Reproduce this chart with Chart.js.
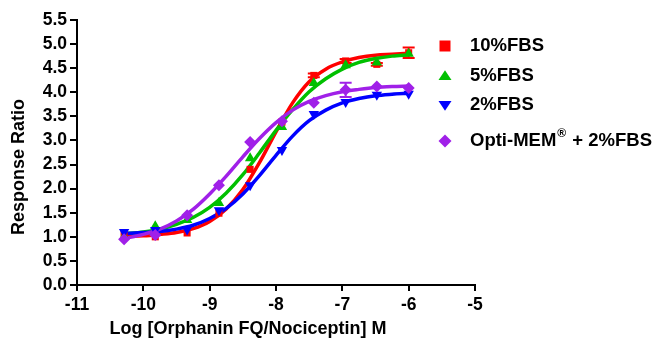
<!DOCTYPE html>
<html>
<head>
<meta charset="utf-8">
<script src="https://cdn.jsdelivr.net/npm/chart.js@4.4.1/dist/chart.umd.min.js"></script>
<style>
html,body{margin:0;padding:0;background:#fff;}
#wrap{width:662px;height:347px;position:relative;}
</style>
</head>
<body>
<div id="wrap"><canvas id="c" width="662" height="347"></canvas></div>
<script>
// ---- data ----
const seriesLabels = ["10%FBS", "5%FBS", "2%FBS", "Opti-MEM"];
const legendSuffix = " + 2%FBS";
const xTitle = "Log [Orphanin FQ/Nociceptin] M";
const yTitle = "Response Ratio";
const logConc = [-10.29, -9.82, -9.34, -8.86, -8.39, -7.91, -7.43, -6.95, -6.48, -6.0];
const fbs10 = [1.05, 1.00, 1.08, 1.49, 2.40, 3.38, 4.35, 4.65, 4.58, 4.82];
const fbs5  = [1.00, 1.22, 1.35, 1.70, 2.63, 3.28, 4.19, 4.56, 4.62, 4.80];
const fbs2  = [1.10, 1.14, 1.15, 1.55, 2.07, 2.80, 3.55, 3.80, 3.95, 3.97];
const opti  = [0.95, 1.04, 1.45, 2.07, 2.97, 3.40, 3.78, 4.05, 4.12, 4.09];
const errFbs10 = [0, 0, 0, 0, 0, 0, 0.04, 0.04, 0.03, 0.11];
const errOpti  = [0, 0, 0, 0, 0, 0, 0, 0.15, 0, 0];

// fitted curves
const curveX = [-10.3, -10, -9.75, -9.5, -9.25, -9, -8.75, -8.5, -8.25, -8, -7.75, -7.5, -7.25, -7, -6.75, -6.5, -6.25, -6];
const curve10 = [1.01, 1.02, 1.05, 1.09, 1.17, 1.32, 1.58, 1.98, 2.54, 3.18, 3.78, 4.22, 4.48, 4.63, 4.72, 4.77, 4.79, 4.81];
const curve5  = [1.06, 1.10, 1.16, 1.26, 1.40, 1.61, 1.91, 2.29, 2.74, 3.21, 3.64, 4.01, 4.28, 4.48, 4.62, 4.70, 4.75, 4.78];
const curve2  = [1.07, 1.09, 1.11, 1.16, 1.24, 1.38, 1.59, 1.89, 2.27, 2.69, 3.09, 3.41, 3.63, 3.78, 3.87, 3.93, 3.96, 3.98];
const curveO  = [0.96, 1.05, 1.16, 1.33, 1.57, 1.89, 2.26, 2.66, 3.04, 3.37, 3.63, 3.81, 3.93, 4.01, 4.06, 4.10, 4.12, 4.13];

const xTicks = [-11, -10, -9, -8, -7, -6, -5];
const yMin = 0, yMax = 5.5, yStep = 0.5;

const colors = ["#ff0000", "#00c000", "#0000ff", "#a020e8"];
const styles = [
  {pointStyle: "rect", rotation: 0, radius: 5.5},
  {pointStyle: "triangle", rotation: 0, radius: 6.5},
  {pointStyle: "triangle", rotation: 180, radius: 6.5},
  {pointStyle: "rectRot", rotation: 0, radius: 6.5}
];

const pts = (xs, ys) => xs.map((v, i) => ({x: v, y: ys[i]}));
const values = [fbs10, fbs5, fbs2, opti];
const curves = [curve10, curve5, curve2, curveO];
const errs = [errFbs10, null, null, errOpti];

const datasets = [];
curves.forEach((c, i) => {
  datasets.push({
    type: "line", label: seriesLabels[i] + " fit", data: pts(curveX, c),
    borderColor: colors[i], borderWidth: 3.5, pointRadius: 0, fill: false,
    cubicInterpolationMode: "monotone", order: 10 - i
  });
});
values.forEach((v, i) => {
  datasets.push({
    type: "scatter", label: seriesLabels[i], data: pts(logConc, v),
    backgroundColor: colors[i], borderColor: colors[i], borderWidth: 0,
    pointStyle: styles[i].pointStyle, rotation: styles[i].rotation,
    pointRadius: styles[i].radius - 0.5, showLine: false, order: 5 - i
  });
});

function drawMarker(ctx, style, color, cx, cy) {
  ctx.save();
  ctx.fillStyle = color;
  ctx.beginPath();
  const r = style.radius;
  if (style.pointStyle === "rect") {
    ctx.rect(cx - r, cy - r, 2 * r, 2 * r);
  } else if (style.pointStyle === "rectRot") {
    ctx.moveTo(cx, cy - r); ctx.lineTo(cx + r, cy); ctx.lineTo(cx, cy + r); ctx.lineTo(cx - r, cy); ctx.closePath();
  } else if (style.rotation === 180) {
    ctx.moveTo(cx - r, cy - r * 0.6); ctx.lineTo(cx + r, cy - r * 0.6); ctx.lineTo(cx, cy + r * 0.9); ctx.closePath();
  } else {
    ctx.moveTo(cx - r, cy + r * 0.6); ctx.lineTo(cx + r, cy + r * 0.6); ctx.lineTo(cx, cy - r * 0.9); ctx.closePath();
  }
  ctx.fill();
  ctx.restore();
}

const FAM = "'Liberation Sans', Arial, sans-serif";

const extras = {
  id: "extras",
  beforeDatasetsDraw(chart) {
    const {ctx, scales: {x, y}} = chart;
    ctx.save();
    ctx.lineWidth = 2;
    errs.forEach((e, i) => {
      if (!e) return;
      ctx.strokeStyle = colors[i];
      e.forEach((d, k) => {
        if (!d) return;
        const px = x.getPixelForValue(logConc[k]);
        const top = y.getPixelForValue(values[i][k] + d);
        const bot = y.getPixelForValue(values[i][k] - d);
        ctx.beginPath();
        ctx.moveTo(px, top); ctx.lineTo(px, bot);
        ctx.moveTo(px - 6, top); ctx.lineTo(px + 6, top);
        ctx.moveTo(px - 6, bot); ctx.lineTo(px + 6, bot);
        ctx.stroke();
      });
    });
    ctx.restore();
  },
  afterDraw(chart) {
    const ctx = chart.ctx;
    const rows = [46, 76, 105, 141];
    ctx.save();
    ctx.textBaseline = "middle";
    ctx.fillStyle = "#000";
    const big = "bold 18.5px " + FAM;
    rows.forEach((ry, i) => {
      drawMarker(ctx, styles[i], colors[i], 445, ry);
      ctx.font = big;
      ctx.textAlign = "left";
      if (i < 3) {
        ctx.fillText(seriesLabels[i], 470, ry);
      } else {
        const base = seriesLabels[i];
        ctx.fillText(base, 470, ry);
        const w = ctx.measureText(base).width;
        ctx.font = "bold 12px " + FAM;
        ctx.fillText("\u00AE", 470 + w + 1, ry - 7);
        const w2 = ctx.measureText("\u00AE").width;
        ctx.font = big;
        ctx.fillText(legendSuffix, 470 + w + w2 + 2, ry);
      }
    });
    // axis titles
    ctx.font = "bold 18px " + FAM;
    ctx.textAlign = "center";
    ctx.fillText(xTitle, 248, 329);
    ctx.translate(19, 167);
    ctx.rotate(-Math.PI / 2);
    ctx.fillText(yTitle, 0, 0);
    ctx.restore();
  }
};

const tickFont = {family: FAM, size: 17.5, weight: "bold"};

new Chart(document.getElementById("c"), {
  type: "scatter",
  data: {datasets},
  options: {
    responsive: false,
    animation: false,
    devicePixelRatio: 1,
    layout: {padding: {top: 20, right: 187, left: 0, bottom: 0}},
    plugins: {legend: {display: false}, tooltip: {enabled: false}},
    scales: {
      x: {
        type: "linear", min: -11, max: -5,
        afterBuildTicks: s => { s.ticks = xTicks.map(v => ({value: v})); },
        afterFit: s => { s.height = 62; },
        ticks: {color: "#000", font: tickFont, padding: 4, maxRotation: 0, callback: v => String(v)},
        grid: {display: true, drawOnChartArea: false, drawTicks: true, tickLength: 6, color: "#000", lineWidth: 2},
        border: {display: true, color: "#000", width: 2},
        title: {display: false}
      },
      y: {
        type: "linear", min: yMin, max: yMax,
        ticks: {stepSize: yStep, color: "#000", font: tickFont, padding: 3, callback: v => Number(v).toFixed(1)},
        afterFit: s => { s.width = 77; },
        grid: {display: true, drawOnChartArea: false, drawTicks: true, tickLength: 7, color: "#000", lineWidth: 2},
        border: {display: true, color: "#000", width: 2},
        title: {display: false}
      }
    }
  },
  plugins: [extras]
});
</script>
</body>
</html>
